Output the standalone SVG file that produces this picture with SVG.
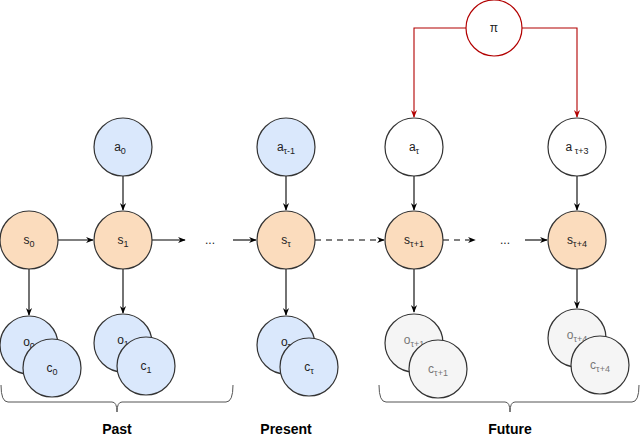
<svg xmlns="http://www.w3.org/2000/svg" width="640" height="438" viewBox="0 0 640 438">
<defs>
<marker id="ah" viewBox="0 0 10 10" refX="9" refY="5" markerWidth="7" markerHeight="7" orient="auto"><path d="M0,1 L10,5 L0,9 L3,5 Z" fill="#000"/></marker>
<marker id="ahr" viewBox="0 0 10 10" refX="9" refY="5" markerWidth="7" markerHeight="7" orient="auto"><path d="M0,1 L10,5 L0,9 L3,5 Z" fill="#b20000"/></marker>
<style>
circle{stroke:#333;stroke-width:1.2}
.s{fill:#fbdcbd}.b{fill:#dae8fc}.g{fill:#f5f5f5}.w{fill:#fff}
text{font-family:"Liberation Sans",Arial,sans-serif;font-size:12px;text-anchor:middle;fill:#222}
.gt{fill:#777}
.sub{font-size:9px}
.lbl{font-weight:bold;font-size:14px;fill:#000}
.e{stroke:#000;stroke-width:1.1;fill:none;marker-end:url(#ah)}
.d{stroke-dasharray:6,5}
.r{stroke:#b20000;stroke-width:1.1;fill:none;marker-end:url(#ahr)}
.br{stroke:#555;stroke-width:1;fill:none}
</style>
</defs>
<g id="connectors">
<path class="e" d="M58,240 L93,240"/>
<path class="e" d="M152,240 L185,240"/>
<path class="e" d="M233,240 L256,240"/>
<path class="e d" d="M315,240 L384,240"/>
<path class="e d" d="M443,240 L475,240"/>
<path class="e" d="M525,240 L547,240"/>
<path class="e" d="M123,176 L123,210"/>
<path class="e" d="M286,176 L286,210"/>
<path class="e" d="M414,176 L414,210"/>
<path class="e" d="M577,176 L577,210"/>
<path class="e" d="M29,269 L29,315"/>
<path class="e" d="M123,269 L123,313"/>
<path class="e" d="M286,269 L286,315"/>
<path class="e" d="M414,269 L414,312"/>
<path class="e" d="M577,269 L577,308"/>
<path class="r" d="M466,28 L414,28 L414,117"/>
<path class="r" d="M522,28 L577,28 L577,117"/>
</g>
<g id="pi"><circle class="w" cx="494" cy="28" r="28" style="stroke:#b20000"/><text x="494" y="32">π</text></g>
<g id="a0"><circle class="b" cx="123" cy="147" r="29"/><text x="120" y="151">a<tspan class="sub" dy="3">0</tspan></text></g>
<g id="atau-1"><circle class="b" cx="286" cy="147" r="29"/><text x="286" y="151">a<tspan class="sub" dy="3">τ-1</tspan></text></g>
<g id="atau"><circle class="w" cx="414" cy="147" r="29"/><text x="414" y="151">a<tspan class="sub" dy="3">τ</tspan></text></g>
<g id="atau3"><circle class="w" cx="577" cy="147" r="29"/><text x="577" y="151">a<tspan class="sub" dy="3"> τ+3</tspan></text></g>
<g id="s0"><circle class="s" cx="29" cy="240" r="29"/><text x="29" y="244">s<tspan class="sub" dy="3">0</tspan></text></g>
<g id="s1"><circle class="s" cx="123" cy="240" r="29"/><text x="123" y="244">s<tspan class="sub" dy="3">1</tspan></text></g>
<g id="dots1"><text x="210" y="244">...</text></g>
<g id="stau"><circle class="s" cx="286" cy="240" r="29"/><text x="286" y="244">s<tspan class="sub" dy="3">τ</tspan></text></g>
<g id="stau1"><circle class="s" cx="414" cy="240" r="29"/><text x="414" y="244">s<tspan class="sub" dy="3">τ+1</tspan></text></g>
<g id="dots2"><text x="505" y="244">...</text></g>
<g id="stau4"><circle class="s" cx="577" cy="240" r="29"/><text x="577" y="244">s<tspan class="sub" dy="3">τ+4</tspan></text></g>
<g id="oc0"><circle class="b" cx="29" cy="345" r="29"/><text x="29" y="346">o<tspan class="sub" dy="3">0</tspan></text><circle class="b" cx="52" cy="368" r="29"/><text x="52" y="372">c<tspan class="sub" dy="3">0</tspan></text></g>
<g id="oc1"><circle class="b" cx="123" cy="343" r="29"/><text x="123" y="344">o<tspan class="sub" dy="3">1</tspan></text><circle class="b" cx="146" cy="366" r="29"/><text x="146" y="370">c<tspan class="sub" dy="3">1</tspan></text></g>
<g id="octau"><circle class="b" cx="286" cy="345" r="29"/><text x="286" y="346">o<tspan class="sub" dy="3">τ</tspan></text><circle class="b" cx="309" cy="367" r="29"/><text x="309" y="371">c<tspan class="sub" dy="3">τ</tspan></text></g>
<g id="octau1"><circle class="g" cx="414" cy="343" r="29"/><text class="gt" x="414" y="344">o<tspan class="sub" dy="3">τ+1</tspan></text><circle class="g" cx="438" cy="369" r="29"/><text class="gt" x="438" y="373">c<tspan class="sub" dy="3">τ+1</tspan></text></g>
<g id="octau4"><circle class="g" cx="577" cy="338" r="29"/><text class="gt" x="577" y="339">o<tspan class="sub" dy="3">τ+4</tspan></text><circle class="g" cx="600" cy="365" r="29"/><text class="gt" x="600" y="369">c<tspan class="sub" dy="3">τ+4</tspan></text></g>
<g id="past"><path class="br" d="M1,385 Q1,402 8,402 L112,402 Q117,402 117,412 Q117,402 122,402 L226,402 Q233,402 233,385"/><text class="lbl" x="117" y="434">Past</text></g>
<g id="present"><text class="lbl" x="286" y="434">Present</text></g>
<g id="future"><path class="br" d="M379,385 Q379,402 386,402 L505,402 Q510,402 510,412 Q510,402 515,402 L632,402 Q639,402 639,385"/><text class="lbl" x="510" y="434">Future</text></g>
</svg>
